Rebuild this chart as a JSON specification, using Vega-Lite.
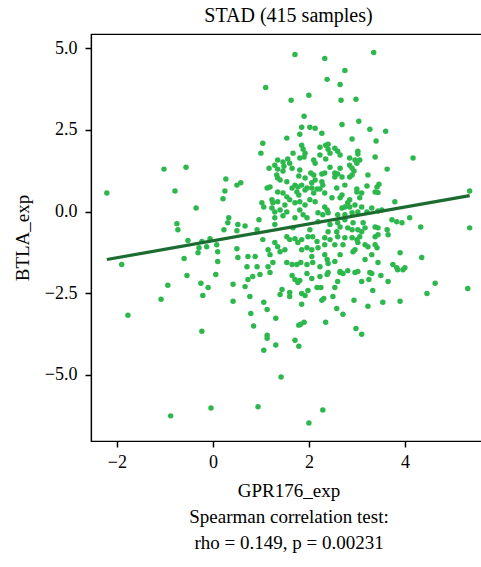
{
"$schema": "https://vega.github.io/schema/vega-lite/v6.json",
"autosize": "none",
"padding": {"left": 91, "top": 34, "right": 0, "bottom": 126},
"width": 395,
"height": 407,
"background": "white",
"config": {
  "font": "Liberation Serif",
  "view": {"stroke": "black", "strokeWidth": 1.2},
  "axis": {"grid": false, "domainColor": "black", "domainWidth": 1.2, "tickColor": "black", "tickWidth": 1.5, "tickSize": 6, "labelColor": "black", "labelFontSize": 18, "labelFont": "Liberation Serif", "titleFont": "Liberation Serif", "titleFontWeight": "normal", "titleColor": "black", "titleFontSize": 19}
},
"title": {"text": "STAD (415 samples)", "fontSize": 20, "fontWeight": "normal", "color": "black", "font": "Liberation Serif", "offset": 8},
"datasets": {
"pts": [
{"gpr":-2.21,"btla":0.57},{"gpr":-1.90,"btla":-1.62},{"gpr":-1.77,"btla":-3.18},{"gpr":-1.02,"btla":1.30},{"gpr":-0.56,"btla":1.36},
{"gpr":-0.79,"btla":0.63},{"gpr":-0.35,"btla":0.11},{"gpr":-0.75,"btla":-0.37},{"gpr":-0.73,"btla":-0.56},{"gpr":-0.52,"btla":-0.89},
{"gpr":-0.23,"btla":-0.92},{"gpr":-0.06,"btla":-0.83},{"gpr":-0.13,"btla":-1.08},{"gpr":-0.29,"btla":-1.11},{"gpr":-0.31,"btla":-1.26},
{"gpr":0.08,"btla":-1.02},{"gpr":0.10,"btla":-1.23},{"gpr":0.10,"btla":-1.53},{"gpr":-0.60,"btla":-1.44},{"gpr":0.27,"btla":1.00},
{"gpr":0.25,"btla":0.63},{"gpr":0.21,"btla":0.39},{"gpr":0.50,"btla":0.81},{"gpr":0.58,"btla":0.88},{"gpr":0.33,"btla":-0.19},
{"gpr":0.31,"btla":-0.34},{"gpr":0.23,"btla":-0.56},{"gpr":0.50,"btla":-0.59},{"gpr":0.67,"btla":-0.44},{"gpr":0.50,"btla":-1.14},
{"gpr":0.52,"btla":-1.41},{"gpr":0.71,"btla":-1.69},{"gpr":0.88,"btla":-1.38},{"gpr":0.92,"btla":-0.56},{"gpr":0.96,"btla":-0.25},
{"gpr":1.04,"btla":-0.86},{"gpr":1.15,"btla":-1.17},{"gpr":1.19,"btla":-1.32},{"gpr":0.92,"btla":-1.69},{"gpr":0.98,"btla":-1.93},
{"gpr":1.19,"btla":-1.87},{"gpr":-0.54,"btla":-1.96},{"gpr":0.06,"btla":-1.93},{"gpr":-1.08,"btla":-2.69},{"gpr":-0.94,"btla":-2.26},
{"gpr":-0.25,"btla":-2.20},{"gpr":-0.21,"btla":-2.57},{"gpr":-0.10,"btla":-2.33},{"gpr":-0.23,"btla":-3.67},{"gpr":0.42,"btla":-2.23},
{"gpr":0.42,"btla":-2.75},{"gpr":-0.88,"btla":-6.26},{"gpr":-0.04,"btla":-6.02},{"gpr":0.94,"btla":-5.98},{"gpr":2.29,"btla":-6.08},
{"gpr":2.00,"btla":-6.48},{"gpr":1.42,"btla":-5.07},{"gpr":0.73,"btla":-1.38},{"gpr":1.02,"btla":0.27},{"gpr":1.15,"btla":-1.69},
{"gpr":1.25,"btla":-1.56},{"gpr":1.04,"btla":2.09},{"gpr":1.00,"btla":1.79},{"gpr":1.17,"btla":1.33},{"gpr":1.29,"btla":1.42},
{"gpr":1.35,"btla":1.58},{"gpr":1.46,"btla":1.52},{"gpr":1.56,"btla":1.61},{"gpr":1.48,"btla":1.39},{"gpr":1.35,"btla":1.30},
{"gpr":1.46,"btla":1.24},{"gpr":1.65,"btla":1.33},{"gpr":1.60,"btla":1.48},{"gpr":1.54,"btla":2.25},{"gpr":1.67,"btla":1.79},
{"gpr":1.63,"btla":3.41},{"gpr":1.90,"btla":2.92},{"gpr":1.85,"btla":2.58},{"gpr":2.02,"btla":2.58},{"gpr":2.13,"btla":2.55},
{"gpr":1.81,"btla":2.37},{"gpr":2.27,"btla":2.40},{"gpr":1.85,"btla":2.03},{"gpr":1.88,"btla":1.91},{"gpr":1.92,"btla":1.79},
{"gpr":2.23,"btla":1.97},{"gpr":2.35,"btla":2.03},{"gpr":1.81,"btla":1.64},{"gpr":1.90,"btla":1.67},{"gpr":2.10,"btla":1.58},
{"gpr":2.13,"btla":1.48},{"gpr":2.35,"btla":1.61},{"gpr":1.33,"btla":1.12},{"gpr":1.35,"btla":1.03},{"gpr":1.40,"btla":0.97},
{"gpr":1.54,"btla":0.91},{"gpr":1.79,"btla":1.09},{"gpr":1.92,"btla":1.03},{"gpr":2.04,"btla":1.18},{"gpr":2.10,"btla":1.12},
{"gpr":2.13,"btla":0.97},{"gpr":2.06,"btla":0.88},{"gpr":2.27,"btla":1.15},{"gpr":2.33,"btla":1.18},{"gpr":2.27,"btla":0.91},
{"gpr":2.29,"btla":0.81},{"gpr":1.13,"btla":0.72},{"gpr":1.19,"btla":0.75},{"gpr":1.71,"btla":0.81},{"gpr":1.77,"btla":0.75},
{"gpr":1.85,"btla":0.81},{"gpr":1.96,"btla":0.72},{"gpr":2.06,"btla":0.72},{"gpr":2.17,"btla":0.69},{"gpr":2.23,"btla":0.69},
{"gpr":1.71,"btla":4.81},{"gpr":2.33,"btla":4.69},{"gpr":3.35,"btla":4.87},{"gpr":2.75,"btla":4.32},{"gpr":2.38,"btla":4.05},
{"gpr":2.65,"btla":3.89},{"gpr":1.10,"btla":3.80},{"gpr":2.00,"btla":3.56},{"gpr":2.67,"btla":3.41},{"gpr":2.98,"btla":3.44},
{"gpr":2.69,"btla":2.67},{"gpr":3.04,"btla":2.77},{"gpr":3.27,"btla":2.52},{"gpr":3.60,"btla":2.46},{"gpr":2.90,"btla":2.22},
{"gpr":3.40,"btla":2.16},{"gpr":2.40,"btla":2.06},{"gpr":2.40,"btla":1.91},{"gpr":2.54,"btla":1.94},{"gpr":2.60,"btla":1.85},
{"gpr":2.44,"btla":1.79},{"gpr":3.02,"btla":1.85},{"gpr":3.02,"btla":1.76},{"gpr":2.65,"btla":1.73},{"gpr":2.85,"btla":1.64},
{"gpr":2.96,"btla":1.58},{"gpr":3.06,"btla":1.58},{"gpr":3.00,"btla":1.48},{"gpr":3.38,"btla":1.67},{"gpr":4.17,"btla":1.64},
{"gpr":2.85,"btla":1.42},{"gpr":2.90,"btla":1.33},{"gpr":2.94,"btla":1.24},{"gpr":2.44,"btla":1.36},{"gpr":2.65,"btla":1.33},
{"gpr":3.63,"btla":1.30},{"gpr":2.54,"btla":1.18},{"gpr":2.60,"btla":1.15},{"gpr":2.69,"btla":1.06},{"gpr":2.54,"btla":1.06},
{"gpr":2.85,"btla":1.06},{"gpr":2.90,"btla":1.12},{"gpr":3.23,"btla":1.12},{"gpr":2.58,"btla":0.72},{"gpr":3.00,"btla":0.69},
{"gpr":3.21,"btla":0.78},{"gpr":3.42,"btla":0.75},{"gpr":3.46,"btla":0.84},{"gpr":1.35,"btla":0.60},{"gpr":1.46,"btla":0.57},
{"gpr":1.54,"btla":0.45},{"gpr":1.65,"btla":0.72},{"gpr":1.75,"btla":0.60},{"gpr":1.79,"btla":0.51},{"gpr":1.92,"btla":0.66},
{"gpr":2.10,"btla":0.57},{"gpr":2.33,"btla":0.57},{"gpr":1.23,"btla":0.36},{"gpr":1.25,"btla":0.27},{"gpr":1.35,"btla":0.30},
{"gpr":1.60,"btla":0.36},{"gpr":1.71,"btla":0.27},{"gpr":1.81,"btla":0.30},{"gpr":1.92,"btla":0.20},{"gpr":2.02,"btla":0.36},
{"gpr":2.13,"btla":0.30},{"gpr":2.33,"btla":0.14},{"gpr":2.38,"btla":0.05},{"gpr":1.23,"btla":0.11},{"gpr":1.29,"btla":-0.01},
{"gpr":1.40,"btla":0.05},{"gpr":1.54,"btla":-0.01},{"gpr":1.29,"btla":-0.19},{"gpr":1.46,"btla":-0.13},{"gpr":1.71,"btla":-0.19},
{"gpr":1.88,"btla":-0.10},{"gpr":1.96,"btla":-0.19},{"gpr":2.19,"btla":-0.04},{"gpr":2.29,"btla":-0.10},{"gpr":0.52,"btla":-0.40},
{"gpr":1.29,"btla":-0.40},{"gpr":1.29,"btla":-0.95},{"gpr":1.35,"btla":-1.08},{"gpr":1.40,"btla":-1.23},{"gpr":1.54,"btla":-0.77},
{"gpr":1.60,"btla":-0.86},{"gpr":1.71,"btla":-0.83},{"gpr":1.77,"btla":-0.95},{"gpr":1.85,"btla":-0.86},{"gpr":1.98,"btla":-0.77},
{"gpr":2.08,"btla":-0.77},{"gpr":2.17,"btla":-0.92},{"gpr":2.33,"btla":-0.80},{"gpr":2.33,"btla":-1.02},{"gpr":1.85,"btla":-1.17},
{"gpr":1.96,"btla":-1.11},{"gpr":2.06,"btla":-1.17},{"gpr":2.19,"btla":-1.11},{"gpr":1.54,"btla":-1.56},{"gpr":1.65,"btla":-1.62},
{"gpr":1.75,"btla":-1.62},{"gpr":1.83,"btla":-1.56},{"gpr":1.96,"btla":-1.62},{"gpr":2.08,"btla":-1.56},{"gpr":2.23,"btla":-1.69},
{"gpr":2.06,"btla":-1.38},{"gpr":2.33,"btla":-1.32},{"gpr":2.48,"btla":0.42},{"gpr":2.65,"btla":0.42},{"gpr":2.69,"btla":0.51},
{"gpr":3.00,"btla":0.60},{"gpr":3.10,"btla":0.57},{"gpr":3.38,"btla":0.60},{"gpr":3.44,"btla":0.58},{"gpr":2.85,"btla":0.36},
{"gpr":2.81,"btla":0.27},{"gpr":2.75,"btla":0.14},{"gpr":2.69,"btla":0.11},{"gpr":2.85,"btla":0.14},{"gpr":2.40,"btla":-0.04},
{"gpr":2.96,"btla":0.20},{"gpr":3.10,"btla":0.14},{"gpr":3.21,"btla":-0.01},{"gpr":3.31,"btla":0.11},{"gpr":3.44,"btla":0.02},
{"gpr":3.52,"btla":0.05},{"gpr":3.79,"btla":0.30},{"gpr":2.60,"btla":-0.10},{"gpr":2.75,"btla":-0.10},{"gpr":2.90,"btla":-0.04},
{"gpr":3.02,"btla":-0.01},{"gpr":3.73,"btla":-0.25},{"gpr":3.83,"btla":-0.31},{"gpr":3.94,"btla":-0.34},{"gpr":4.10,"btla":-0.19},
{"gpr":4.33,"btla":-0.47},{"gpr":2.60,"btla":-0.34},{"gpr":2.65,"btla":-0.47},{"gpr":2.92,"btla":-0.34},{"gpr":3.13,"btla":-0.34},
{"gpr":3.17,"btla":-0.50},{"gpr":3.38,"btla":-0.47},{"gpr":3.44,"btla":-0.50},{"gpr":3.63,"btla":-0.56},{"gpr":2.40,"btla":-0.62},
{"gpr":2.58,"btla":-0.62},{"gpr":2.81,"btla":-0.50},{"gpr":2.90,"btla":-0.56},{"gpr":3.02,"btla":-0.56},{"gpr":3.10,"btla":-0.62},
{"gpr":3.65,"btla":-0.71},{"gpr":2.60,"btla":-0.77},{"gpr":2.75,"btla":-0.80},{"gpr":2.90,"btla":-0.80},{"gpr":3.00,"btla":-0.86},
{"gpr":3.06,"btla":-0.77},{"gpr":3.38,"btla":-0.77},{"gpr":3.44,"btla":-0.71},{"gpr":2.54,"btla":-1.02},{"gpr":2.71,"btla":-1.02},
{"gpr":3.02,"btla":-0.95},{"gpr":3.17,"btla":-1.02},{"gpr":3.23,"btla":-1.08},{"gpr":3.38,"btla":-1.02},{"gpr":3.42,"btla":-1.11},
{"gpr":3.90,"btla":-1.26},{"gpr":4.35,"btla":-1.41},{"gpr":2.92,"btla":-1.23},{"gpr":2.96,"btla":-1.17},{"gpr":3.31,"btla":-1.32},
{"gpr":2.38,"btla":-1.47},{"gpr":2.40,"btla":-1.59},{"gpr":2.54,"btla":-1.53},{"gpr":3.44,"btla":-1.56},{"gpr":3.75,"btla":-1.62},
{"gpr":3.83,"btla":-1.72},{"gpr":4.00,"btla":-1.72},{"gpr":2.65,"btla":-1.84},{"gpr":2.81,"btla":-1.81},{"gpr":3.02,"btla":-1.84},
{"gpr":3.27,"btla":-1.87},{"gpr":5.35,"btla":0.63},{"gpr":5.35,"btla":-0.50},{"gpr":0.83,"btla":-1.99},{"gpr":0.73,"btla":-2.08},
{"gpr":0.67,"btla":-2.30},{"gpr":1.65,"btla":-1.96},{"gpr":1.71,"btla":-2.08},{"gpr":1.77,"btla":-2.17},{"gpr":1.81,"btla":-2.11},
{"gpr":1.96,"btla":-1.90},{"gpr":2.06,"btla":-2.05},{"gpr":2.23,"btla":-1.99},{"gpr":2.38,"btla":-1.93},{"gpr":1.44,"btla":-2.39},
{"gpr":1.40,"btla":-2.54},{"gpr":1.60,"btla":-2.48},{"gpr":1.60,"btla":-2.60},{"gpr":1.85,"btla":-2.51},{"gpr":1.92,"btla":-2.57},
{"gpr":1.98,"btla":-2.42},{"gpr":2.17,"btla":-2.33},{"gpr":2.25,"btla":-2.33},{"gpr":0.77,"btla":-2.60},{"gpr":1.06,"btla":-2.78},
{"gpr":1.85,"btla":-2.84},{"gpr":2.27,"btla":-2.72},{"gpr":2.31,"btla":-2.66},{"gpr":1.13,"btla":-3.00},{"gpr":0.79,"btla":-3.12},
{"gpr":1.31,"btla":-3.27},{"gpr":1.79,"btla":-3.48},{"gpr":1.83,"btla":-3.45},{"gpr":1.90,"btla":-3.39},{"gpr":2.35,"btla":-3.39},
{"gpr":0.85,"btla":-3.51},{"gpr":1.13,"btla":-3.79},{"gpr":1.13,"btla":-3.88},{"gpr":1.71,"btla":-3.94},{"gpr":1.79,"btla":-4.13},
{"gpr":1.31,"btla":-4.09},{"gpr":1.06,"btla":-4.25},{"gpr":2.40,"btla":-1.87},{"gpr":2.65,"btla":-1.87},{"gpr":2.71,"btla":-1.90},
{"gpr":2.96,"btla":-1.87},{"gpr":3.31,"btla":-1.90},{"gpr":3.50,"btla":-1.96},{"gpr":3.85,"btla":-1.78},{"gpr":3.96,"btla":-1.78},
{"gpr":2.60,"btla":-2.14},{"gpr":3.10,"btla":-2.14},{"gpr":3.25,"btla":-2.08},{"gpr":3.65,"btla":-2.14},{"gpr":2.54,"btla":-2.33},
{"gpr":3.33,"btla":-2.42},{"gpr":2.50,"btla":-2.60},{"gpr":2.94,"btla":-2.72},{"gpr":3.54,"btla":-2.78},{"gpr":3.90,"btla":-2.75},
{"gpr":4.46,"btla":-2.51},{"gpr":3.23,"btla":-2.90},{"gpr":2.58,"btla":-2.97},{"gpr":2.71,"btla":-3.15},{"gpr":2.98,"btla":-3.58},
{"gpr":3.10,"btla":-3.76},{"gpr":4.63,"btla":-2.20},{"gpr":5.31,"btla":-2.36},{"gpr":1.06,"btla":0.14},{"gpr":1.50,"btla":0.20},
{"gpr":1.81,"btla":0.05},{"gpr":2.19,"btla":-0.31},{"gpr":2.44,"btla":-0.40},{"gpr":2.75,"btla":-0.25},{"gpr":1.67,"btla":-0.50},
{"gpr":2.02,"btla":-0.56},{"gpr":2.44,"btla":-0.86},{"gpr":1.50,"btla":-1.17},{"gpr":2.65,"btla":-1.32},{"gpr":3.17,"btla":-1.47},
{"gpr":2.23,"btla":1.73},{"gpr":2.75,"btla":0.81},{"gpr":1.81,"btla":1.27},{"gpr":3.06,"btla":0.42}
],
"fit": [{"gpr": -2.21, "btla": -1.47}, {"gpr": 5.35, "btla": 0.49}]
},
"layer": [
{
  "data": {"name": "pts"},
  "mark": {"type": "circle", "size": 30, "color": "#2db84d", "opacity": 1},
  "encoding": {
    "x": {"field": "gpr", "type": "quantitative", "scale": {"domain": [-2.54, 5.69], "nice": false, "zero": false},
          "axis": {"values": [-2, 0, 2, 4], "format": "d", "labelPadding": 6, "titlePadding": 10, "titleLineHeight": 26,
                   "title": ["GPR176_exp", "Spearman correlation test:", "rho = 0.149, p = 0.00231"]}},
    "y": {"field": "btla", "type": "quantitative", "scale": {"domain": [-7.03, 5.44], "nice": false, "zero": false},
          "axis": {"values": [-5, -2.5, 0, 2.5, 5], "format": ".1f", "labelPadding": 8, "titlePadding": 12, "title": "BTLA_exp"}}
  }
},
{
  "data": {"name": "fit"},
  "mark": {"type": "line", "color": "#1c6b30", "strokeWidth": 3.2},
  "encoding": {
    "x": {"field": "gpr", "type": "quantitative"},
    "y": {"field": "btla", "type": "quantitative"}
  }
}
]
}
